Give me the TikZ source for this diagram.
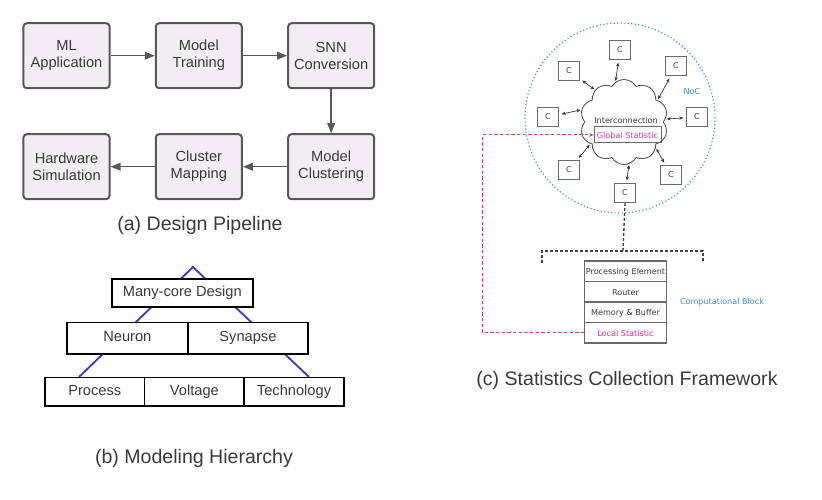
\documentclass[tikz,border=0pt]{standalone}
\usepackage{fontspec}
\setmainfont{Liberation Sans}
\newfontfamily\tahfont{DejaVu Sans}
\usetikzlibrary{arrows.meta,positioning,shapes.symbols,calc}
\definecolor{plfill}{RGB}{242,236,243}
\definecolor{pledge}{RGB}{88,88,88}
\definecolor{txtgray}{RGB}{58,58,58}
\definecolor{hiblue}{RGB}{55,55,225}
\definecolor{nocblue}{RGB}{60,140,235}
\definecolor{stpink}{RGB}{232,48,140}
\definecolor{cedge}{RGB}{105,105,105}
\tikzset{
  plbox/.style={
    draw=pledge, fill=plfill, line width=0.6mm, rounded corners=1mm,
    align=center, text=txtgray, font=\fontsize{12.5}{14.5}\selectfont,
    minimum width=25.8mm, minimum height=19.5mm
  },
  plarr/.style={-{Triangle[length=3mm,width=2.3mm]}, draw=pledge, line width=0.45mm},
  hbox/.style={
    draw=black, fill=white, line width=0.55mm, text=txtgray,
    font=\fontsize{12.5}{14.5}\selectfont, inner sep=0pt,
    text height=1.6ex, text depth=0.45ex
  },
  hline/.style={draw=hiblue, line width=0.55mm},
  capt/.style={font=\fontsize{16.7}{20}\selectfont, text=txtgray},
  sml/.style={font=\tahfont\fontsize{6.9}{8}\selectfont, text=txtgray},
  core/.style={
    sml, draw=cedge, line width=0.3mm, fill=white,
    minimum width=6.3mm, minimum height=5.7mm, inner sep=0pt
  },
  carr/.style={
    {Stealth[length=1.2mm,width=1mm]}-{Stealth[length=1.2mm,width=1mm]},
    draw=black!80, line width=0.2mm, shorten <=0.8mm, shorten >=0.3mm
  },
  stk/.style={
    sml, draw=cedge, line width=0.35mm, fill=white,
    minimum width=24.4mm, minimum height=6.15mm, inner sep=0pt,
    text height=1.6ex, text depth=0.45ex
  },
  pkarr/.style={-{Stealth[length=1.3mm,width=1.1mm]}, draw=stpink, line width=0.3mm, dash pattern=on 1mm off 0.7mm},
  bkdash/.style={draw=black!75, line width=0.4mm, dash pattern=on 0.9mm off 0.6mm},
  blulbl/.style={font=\tahfont\fontsize{6.9}{8}\selectfont, text=nocblue}
}

\begin{document}
\begin{tikzpicture}[x=0.3mm, y=-0.3mm, node distance=13.2mm and 13.3mm]
  \useasboundingbox (0,0) rectangle (822,500);

  \node[plbox] (mlapp) at (66.5,55.7) {ML\\Application};
  \node[plbox, right=of mlapp] (train) {Model\\Training};
  \node[plbox, right=of train] (snn) {SNN\\Conversion};
  \node[plbox, below=of snn] (clust) {Model\\Clustering};
  \node[plbox, left=of clust] (cmap) {Cluster\\Mapping};
  \node[plbox, left=of cmap] (hwsim) {Hardware\\Simulation};
  \draw[plarr] (mlapp) -- (train);
  \draw[plarr] (train) -- (snn);
  \draw[plarr] (snn) -- (clust);
  \draw[plarr] (clust) -- (cmap);
  \draw[plarr] (cmap) -- (hwsim);
  \node[capt] (capa) at (200,225) {(a) Design Pipeline};

  \coordinate (apex) at (193,267);
  \coordinate (hl) at (79,377);
  \coordinate (hr) at (309,377);
  \draw[hline] (hl) -- (apex) -- (hr);
  \node[hbox, minimum width=42.3mm, minimum height=8.3mm] (mcd) at (182.3,293) {Many-core Design};
  \node[hbox, minimum width=36.3mm, minimum height=9.5mm] (neuron) at (127.3,338.3) {Neuron};
  \node[hbox, minimum width=36.1mm, minimum height=9.5mm, right=-0.55mm of neuron] (syn) {Synapse};
  \node[hbox, minimum width=29.9mm, minimum height=8.5mm] (proc) at (94.7,391.7) {Process};
  \node[hbox, minimum width=29.9mm, minimum height=8.5mm, right=-0.55mm of proc] (volt) {Voltage};
  \node[hbox, minimum width=29.9mm, minimum height=8.5mm, right=-0.55mm of volt] (tech) {Technology};
  \node[capt] (capb) at (194,458) {(b) Modeling Hierarchy};

  \node[circle, draw=nocblue, dotted, line width=0.35mm, minimum size=57mm] (noc) at (620,118) {};
  \node[cloud, draw=black!70, line width=0.25mm, cloud puffs=10, cloud puff arc=120,
        aspect=1.05, minimum width=26.4mm, minimum height=25.5mm, inner sep=0pt] (inter) at (624,122) {};
  \node[sml] (ictxt) at (626,120) {Interconnection};
  \node[sml, draw=cedge, line width=0.3mm, text=stpink, minimum width=20.1mm,
        minimum height=4.8mm, inner sep=0pt] (glob) at (627.5,135) {Global Statistic};
  \node[blulbl] (noclbl) at (692,92) {NoC};

  \node[core] (ct) at (620,50) {C};
  \node[core] (cul) at (569,71) {C};
  \node[core] (cur) at (676,66) {C};
  \node[core] (cl) at (548,117) {C};
  \node[core] (cr) at (697,117) {C};
  \node[core] (cll) at (569,170) {C};
  \node[core] (clr) at (671,175) {C};
  \node[core] (cb) at (625,193) {C};
  \draw[carr] (ct) -- (inter.102);
  \draw[carr] (cul) -- (inter.132);
  \draw[carr] (cur) -- (inter.33);
  \draw[carr] (cl) -- (inter.164);
  \draw[carr] (cr) -- (inter.4);
  \draw[carr] (cll) -- (inter.213);
  \draw[carr] (clr) -- (inter.321);
  \draw[carr] (cb) -- (inter.277);

  \coordinate (brk) at (623,251);
  \draw[bkdash] (cb.south) -- (brk);
  \draw[bkdash] ($(brk)+(-81,12)$) -- ++(0,-12) -- ++(161,0) -- ++(0,12);

  \node[stk] (pe) at (625.5,271.2) {Processing Element};
  \node[stk, below=-0.35mm of pe] (rtr) {Router};
  \node[stk, below=-0.35mm of rtr] (mem) {Memory \& Buffer};
  \node[stk, below=-0.35mm of mem, text=stpink] (locst) {Local Statistic};
  \node[blulbl] (cblbl) at (722,302) {Computational Block};
  \draw[pkarr] (locst.west) -- ++(-102,0) |- (glob.west);
  \node[capt] (capc) at (627,380) {(c) Statistics Collection Framework};
\end{tikzpicture}
\end{document}
